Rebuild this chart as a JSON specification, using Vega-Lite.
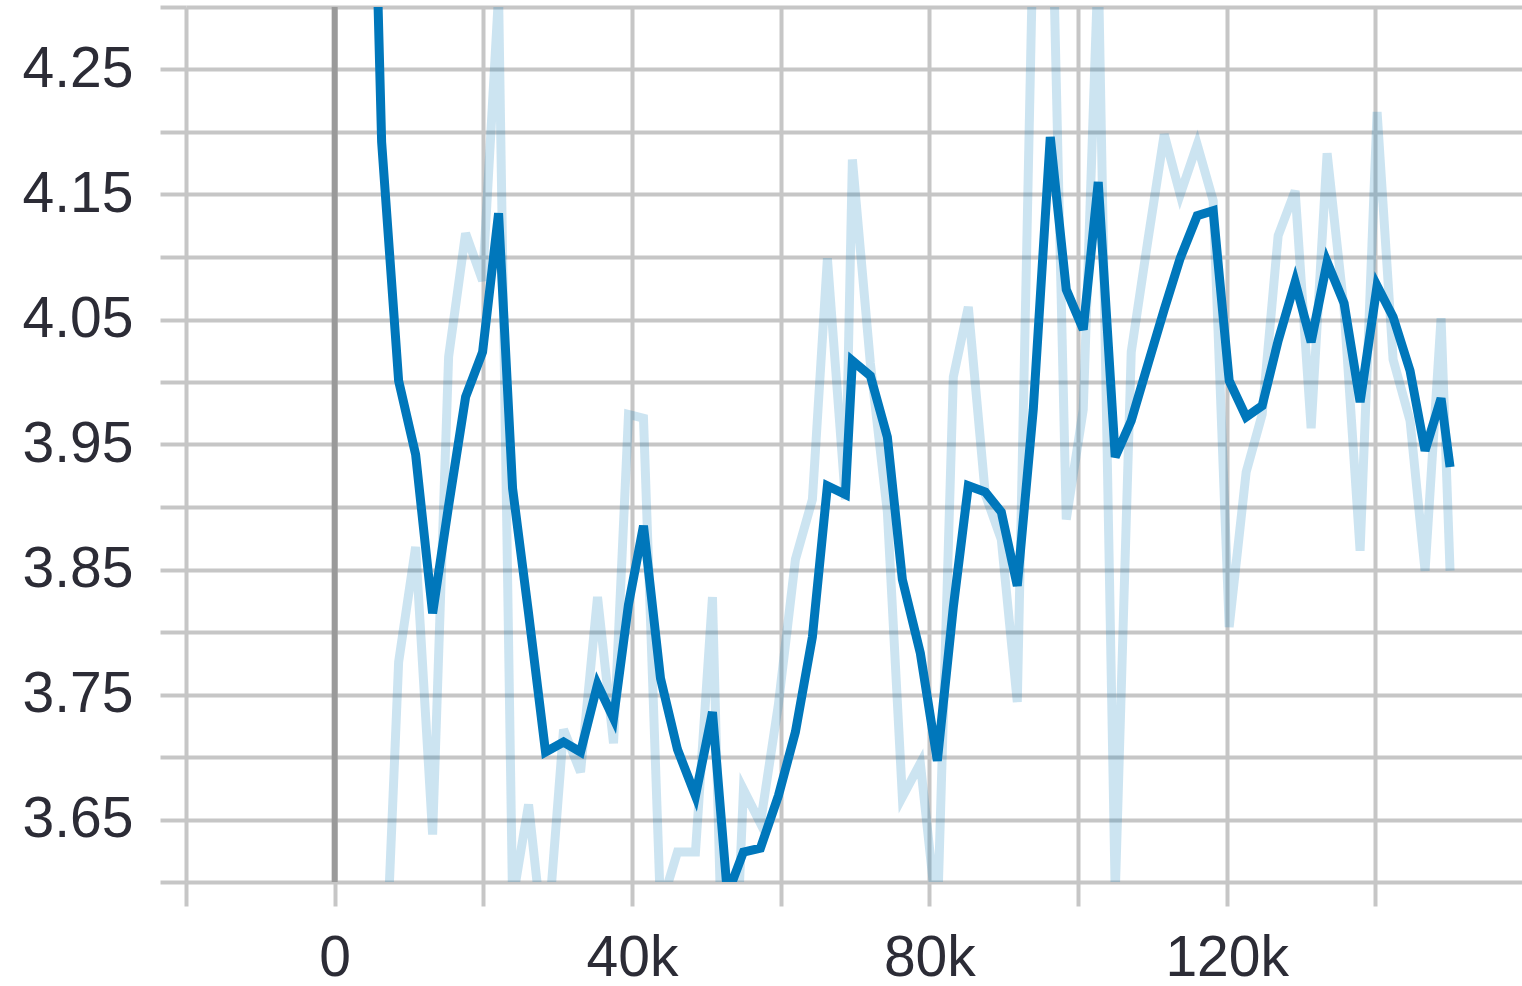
{
  "$schema": "https://vega.github.io/schema/vega-lite/v6.json",
  "width": 1336,
  "height": 875,
  "autosize": {"type": "none"},
  "padding": {"left": 186, "top": 7, "right": 0, "bottom": 104},
  "background": "white",
  "config": {
    "view": {"stroke": null},
    "axis": {
      "grid": true,
      "gridColor": "#c6c6c6",
      "gridWidth": 4,
      "gridOpacity": 1,
      "tickColor": "#c6c6c6",
      "tickWidth": 4,
      "domain": false,
      "labelFont": "Liberation Sans",
      "labelFontSize": 57,
      "labelColor": "#2c2c36",
      "labelOverlap": false,
      "labelFlush": false,
      "labelBound": false,
      "title": null
    }
  },
  "data": {
    "values": [
      {"step": 4168, "raw": null, "smoothed": 4.68},
      {"step": 6319, "raw": 3.45, "smoothed": 4.192},
      {"step": 8605, "raw": 3.776, "smoothed": 4.001},
      {"step": 10891, "raw": 3.868, "smoothed": 3.942},
      {"step": 13176, "raw": 3.638, "smoothed": 3.815},
      {"step": 15328, "raw": 4.02, "smoothed": 3.901},
      {"step": 17613, "raw": 4.119, "smoothed": 3.988},
      {"step": 19899, "raw": 4.081, "smoothed": 4.024},
      {"step": 22050, "raw": 4.31, "smoothed": 4.135},
      {"step": 23933, "raw": 3.585, "smoothed": 3.915},
      {"step": 26084, "raw": 3.662, "smoothed": 3.815},
      {"step": 28370, "raw": 3.537, "smoothed": 3.704},
      {"step": 30790, "raw": 3.722, "smoothed": 3.712},
      {"step": 33076, "raw": 3.688, "smoothed": 3.704},
      {"step": 35361, "raw": 3.828, "smoothed": 3.758},
      {"step": 37513, "raw": 3.711, "smoothed": 3.731},
      {"step": 39529, "raw": 3.974, "smoothed": 3.822},
      {"step": 41546, "raw": 3.971, "smoothed": 3.885},
      {"step": 43832, "raw": 3.579, "smoothed": 3.763},
      {"step": 46118, "raw": 3.624, "smoothed": 3.706},
      {"step": 48538, "raw": 3.624, "smoothed": 3.669},
      {"step": 50824, "raw": 3.828, "smoothed": 3.736},
      {"step": 52840, "raw": 3.37, "smoothed": 3.59},
      {"step": 54992, "raw": 3.674, "smoothed": 3.624},
      {"step": 57277, "raw": 3.647, "smoothed": 3.627},
      {"step": 59697, "raw": 3.742, "smoothed": 3.669},
      {"step": 61983, "raw": 3.858, "smoothed": 3.72},
      {"step": 64269, "raw": 3.906, "smoothed": 3.796},
      {"step": 66286, "raw": 4.099, "smoothed": 3.917},
      {"step": 68706, "raw": 3.906, "smoothed": 3.91},
      {"step": 69647, "raw": 4.178, "smoothed": 4.017},
      {"step": 72067, "raw": 4.015, "smoothed": 4.005},
      {"step": 74353, "raw": 3.896, "smoothed": 3.956},
      {"step": 76370, "raw": 3.668, "smoothed": 3.842},
      {"step": 78790, "raw": 3.695, "smoothed": 3.783},
      {"step": 81076, "raw": 3.569, "smoothed": 3.697},
      {"step": 83227, "raw": 4.004, "smoothed": 3.82},
      {"step": 85244, "raw": 4.06, "smoothed": 3.917},
      {"step": 87529, "raw": 3.91, "smoothed": 3.912},
      {"step": 89681, "raw": 3.874, "smoothed": 3.896},
      {"step": 91832, "raw": 3.744, "smoothed": 3.837},
      {"step": 93983, "raw": 4.36, "smoothed": 3.978},
      {"step": 96269, "raw": 4.45, "smoothed": 4.196},
      {"step": 98420, "raw": 3.89, "smoothed": 4.074},
      {"step": 100706, "raw": 3.978, "smoothed": 4.042},
      {"step": 102723, "raw": 4.336, "smoothed": 4.16},
      {"step": 105008, "raw": 3.59, "smoothed": 3.94},
      {"step": 107160, "raw": 4.024, "smoothed": 3.969},
      {"step": 109445, "raw": 4.115, "smoothed": 4.015},
      {"step": 111597, "raw": 4.198, "smoothed": 4.058},
      {"step": 113748, "raw": 4.15, "smoothed": 4.099},
      {"step": 116034, "raw": 4.19, "smoothed": 4.133},
      {"step": 118185, "raw": 4.145, "smoothed": 4.137},
      {"step": 120336, "raw": 3.804, "smoothed": 4.001},
      {"step": 122622, "raw": 3.928, "smoothed": 3.972},
      {"step": 124773, "raw": 3.974, "smoothed": 3.981},
      {"step": 126924, "raw": 4.117, "smoothed": 4.033},
      {"step": 129210, "raw": 4.153, "smoothed": 4.08},
      {"step": 131361, "raw": 3.963, "smoothed": 4.032},
      {"step": 133513, "raw": 4.183, "smoothed": 4.096},
      {"step": 135798, "raw": 4.058, "smoothed": 4.063},
      {"step": 137950, "raw": 3.865, "smoothed": 3.984},
      {"step": 140235, "raw": 4.216, "smoothed": 4.077},
      {"step": 142387, "raw": 4.018, "smoothed": 4.052},
      {"step": 144672, "raw": 3.969, "smoothed": 4.009},
      {"step": 146689, "raw": 3.849, "smoothed": 3.945},
      {"step": 148840, "raw": 4.051, "smoothed": 3.987},
      {"step": 150050, "raw": 3.849, "smoothed": 3.932}
    ]
  },
  "layer": [
    {
      "mark": {"type": "line", "color": "#0077bb", "opacity": 0.2, "strokeWidth": 9, "clip": true, "strokeJoin": "miter"},
      "encoding": {
        "x": {
          "field": "step",
          "type": "quantitative",
          "scale": {"domain": [-20000, 159730], "nice": false, "zero": false},
          "axis": {
            "grid": true,
            "values": [-20000, 0, 20000, 40000, 60000, 80000, 100000, 120000, 140000],
            "labelExpr": "datum.value % 40000 == 0 ? (datum.value == 0 ? '0' : (datum.value / 1000) + 'k') : ''",
            "tickSize": 24,
            "labelPadding": 24,
            "title": null
          }
        },
        "y": {
          "field": "raw",
          "type": "quantitative",
          "scale": {"domain": [3.6, 4.3], "nice": false, "zero": false},
          "axis": {
            "grid": true,
            "values": [3.6, 3.65, 3.7, 3.75, 3.8, 3.85, 3.9, 3.95, 4.0, 4.05, 4.1, 4.15, 4.2, 4.25, 4.3],
            "labelExpr": "(round(datum.value * 100) % 10 == 5) ? format(datum.value, '.2f') : ''",
            "tickSize": 26,
            "labelPadding": 27,
            "title": null
          }
        }
      }
    },
    {
      "data": {"values": [{}]},
      "mark": {"type": "rule", "color": "#9a9a9a", "strokeWidth": 6},
      "encoding": {
        "x": {"datum": 0, "type": "quantitative"}
      }
    },
    {
      "mark": {"type": "line", "color": "#0077bb", "strokeWidth": 9, "clip": true, "strokeJoin": "miter"},
      "encoding": {
        "x": {"field": "step", "type": "quantitative"},
        "y": {"field": "smoothed", "type": "quantitative"}
      }
    }
  ]
}
